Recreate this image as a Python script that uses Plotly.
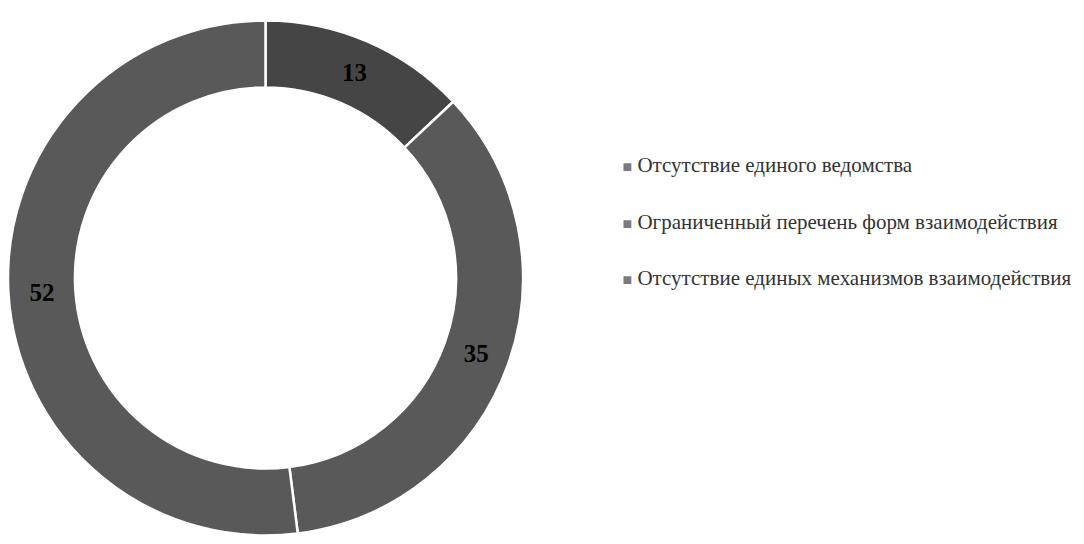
import plotly.graph_objects as go

categories = [
    "Отсутствие единого ведомства",
    "Ограниченный перечень форм взаимодействия",
    "Отсутствие единых механизмов взаимодействия",
]
values = [13, 35, 52]
slice_colors = ["#454545", "#595959", "#595959"]
legend_color = "#7a7a7a"

W, H = 1084, 544
cx, cy, r = 256, 270, 259

fig = go.Figure()
fig.add_trace(go.Pie(
    labels=categories,
    values=values,
    sort=False,
    direction="clockwise",
    rotation=0,
    hole=0.74,
    marker=dict(colors=slice_colors, line=dict(color="white", width=2.5)),
    texttemplate="%{value}",
    textposition="inside",
    insidetextorientation="horizontal",
    textfont=dict(family="Liberation Serif", size=25, color="black", weight="bold"),
    showlegend=False,
    hoverinfo="label+value",
    domain=dict(x=[max(0, (cx - r) / W), (cx + r) / W],
                y=[max(0, (H - cy - r) / H), min(1, (H - cy + r) / H)]),
))

for i, cat in enumerate(categories):
    fig.add_trace(go.Scatter(
        x=[None], y=[None], mode="markers",
        name=f'<span style="color:{legend_color};font-size:16px">■</span> {cat}',
        legendgroup=f"g{i}",
        marker=dict(symbol="square", size=1, color="rgba(0,0,0,0)"),
        showlegend=True,
    ))

fig.update_layout(
    width=W, height=H,
    margin=dict(l=0, r=0, t=0, b=0),
    paper_bgcolor="white", plot_bgcolor="white",
    xaxis=dict(visible=False), yaxis=dict(visible=False),
    showlegend=True,
    legend=dict(
        x=0.530, y=0.750, xanchor="left", yanchor="top",
        font=dict(family="Liberation Serif", size=21, color="#333333"),
        tracegroupgap=26, itemwidth=30,
        bgcolor="rgba(0,0,0,0)",
    ),
)
fig.write_html("out.html")
